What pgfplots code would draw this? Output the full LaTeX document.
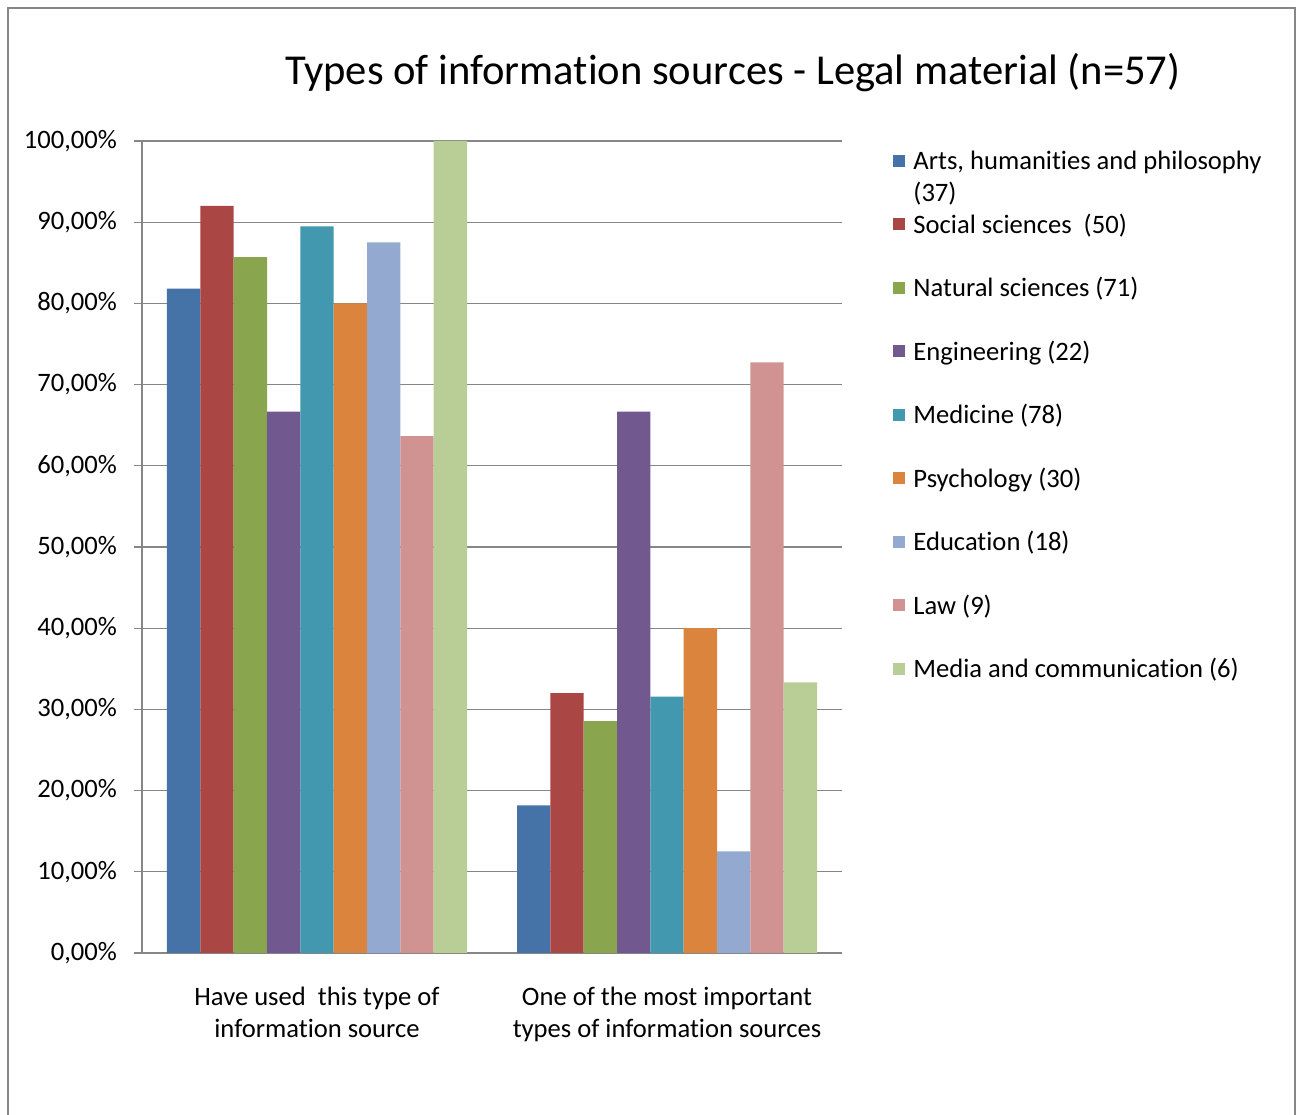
\documentclass[border=0pt]{standalone}
\usepackage{pgfplots}
\pgfplotsset{compat=1.18}
\usepackage{fontspec}
\setmainfont{Carlito}[Ligatures={NoCommon}]
\definecolor{c1}{HTML}{4572A7}
\definecolor{c2}{HTML}{AA4643}
\definecolor{c3}{HTML}{89A54E}
\definecolor{c4}{HTML}{71588F}
\definecolor{c5}{HTML}{4198AF}
\definecolor{c6}{HTML}{DB843D}
\definecolor{c7}{HTML}{93A9CF}
\definecolor{c8}{HTML}{D19392}
\definecolor{c9}{HTML}{B9CD96}
\definecolor{gridc}{HTML}{868686}
\pgfplotsset{mybar/.style={fill=#1, draw=none,
  legend image code/.code={\fill[#1] (0pt,6pt) rectangle (6pt,12pt);}}}
\begin{document}
\begin{tikzpicture}
\useasboundingbox (0,0) rectangle (648pt,557pt);
\draw[gridc, line width=1pt] (4pt,-2pt) -- (4pt,553pt) -- (647.5pt,553pt) -- (647.5pt,-2pt);
\node[font=\fontsize{21.3}{26}\selectfont] at (366.5pt,520.5pt) {Types of information sources - Legal material (n=57)};
\begin{axis}[
  at={(71pt,80.5pt)}, anchor=south west,
  scale only axis, width=350pt, height=406pt,
  ybar=0pt, bar width=16.667pt,
  xmin=-0.5, xmax=1.5, ymin=0, ymax=100,
  axis x line*=bottom, axis y line*=left,
  axis line style={gridc, line width=0.6pt},
  ytick={0,10,...,100},
  yticklabels={{0,00\%},{10,00\%},{20,00\%},{30,00\%},{40,00\%},{50,00\%},{60,00\%},{70,00\%},{80,00\%},{90,00\%},{100,00\%}},
  yticklabel style={xshift=-5pt},
  xtick={0,1},
  xticklabels={{Have used\ \ this type of\\information source},{One of the most important\\types of information sources}},
  xticklabel style={align=center, yshift=-9.5pt},
  major x tick style={draw=none},
  extra x ticks={-0.5,0.5,1.5},
  extra x tick labels={},
  extra x tick style={major tick length=5pt, tick style={gridc, line width=0.6pt}, grid=none},
  tick align=outside, major tick length=4pt,
  tick style={gridc, line width=0.6pt},
  ymajorgrids, grid style={gridc, line width=0.6pt},
  ticklabel style={font=\fontsize{13.3}{16}\selectfont},
  legend cell align=left,
  legend style={at={(axis description cs:1.0729,0.990)}, anchor=north west, draw=none, fill=none, inner sep=0pt,
    row sep=2.75pt, column sep=4pt,
    nodes={inner sep=0pt, text height=10pt, text depth=19pt, font=\fontsize{13.3}{16}\selectfont}},
]
\addplot[mybar=c1] coordinates {(0,81.82) (1,18.18)};
\addplot[mybar=c2] coordinates {(0,92.00) (1,32.00)};
\addplot[mybar=c3] coordinates {(0,85.71) (1,28.57)};
\addplot[mybar=c4] coordinates {(0,66.67) (1,66.67)};
\addplot[mybar=c5] coordinates {(0,89.47) (1,31.58)};
\addplot[mybar=c6] coordinates {(0,80.00) (1,40.00)};
\addplot[mybar=c7] coordinates {(0,87.50) (1,12.50)};
\addplot[mybar=c8] coordinates {(0,63.64) (1,72.73)};
\addplot[mybar=c9] coordinates {(0,100.00) (1,33.33)};
\legend{{\begin{tabular}[t]{@{}l@{}}Arts, humanities and philosophy\\(37)\end{tabular}},
  {Social sciences\ \ (50)},
  {Natural sciences (71)},
  {Engineering (22)},
  {Medicine (78)},
  {Psychology (30)},
  {Education (18)},
  {Law (9)},
  {Media and communication (6)}}
\end{axis}
\end{tikzpicture}
\end{document}
